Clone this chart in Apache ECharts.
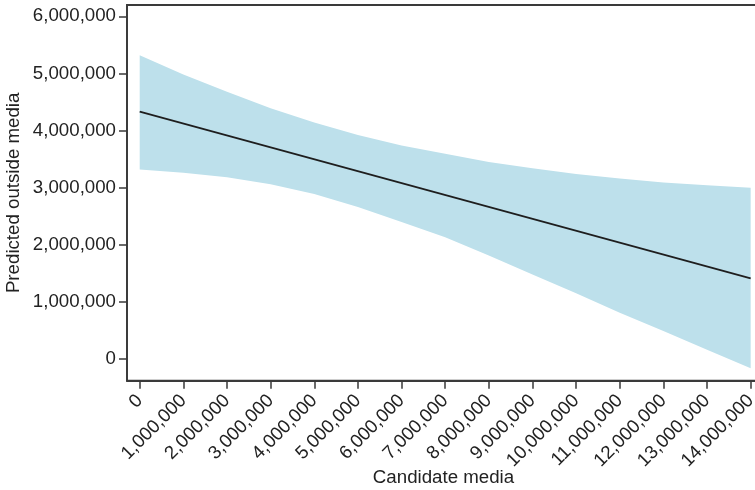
<!DOCTYPE html>
<html><head><meta charset="utf-8">
<script src="https://cdn.jsdelivr.net/npm/echarts@6/dist/echarts.min.js"></script>
<style>html,body{margin:0;padding:0;background:#fff}#c{width:755px;height:490px}</style>
</head><body><div id="c"></div>
<script>
// Candidate media (x) sample points
const xValues = [0,1000000,2000000,3000000,4000000,5000000,6000000,7000000,8000000,9000000,10000000,11000000,12000000,13000000,14000000];
// Upper bound of confidence band
const upperBound = [5320000,4980000,4680000,4390000,4140000,3920000,3740000,3595000,3450000,3340000,3240000,3160000,3090000,3040000,3000000];
// Lower bound of confidence band
const lowerBound = [3320000,3260000,3180000,3060000,2890000,2660000,2400000,2130000,1810000,1480000,1150000,810000,490000,160000,-160000];
// Fitted line endpoints
const fitX = [0, 14000000];
const fitY = [4330000, 1410000];
// Tick values
const xTicks = [0,1000000,2000000,3000000,4000000,5000000,6000000,7000000,8000000,9000000,10000000,11000000,12000000,13000000,14000000];
const yTicks = [0,1000000,2000000,3000000,4000000,5000000,6000000];

const fmt = v => Number(v).toLocaleString('en-US');
const FONT = "'Liberation Sans', Arial, Helvetica, sans-serif";
const TXT = '#222';
const AX = '#3a3a3a';
const FS = 18.7;

const chart = echarts.init(document.getElementById('c'), null, {renderer: 'canvas'});
chart.setOption({
  animation: false,
  backgroundColor: '#fff',
  grid: {left: 127, top: 5, right: -5, bottom: 109.3, show: true, borderColor: AX, borderWidth: 1.8, containLabel: false, outerBoundsMode: 'none'},
  xAxis: {
    type: 'value', min: -291000, max: 14214000,
    axisLine: {show: true, onZero: false, lineStyle: {color: AX, width: 1.8}},
    axisTick: {show: true, customValues: xTicks, length: 8, lineStyle: {color: AX, width: 1.5}},
    axisLabel: {customValues: xTicks, rotate: 45, formatter: fmt, fontSize: FS, fontFamily: FONT, color: TXT, margin: 17},
    splitLine: {show: false},
    name: 'Candidate media', nameLocation: 'middle', nameGap: 88, nameMoveOverlap: false,
    nameTextStyle: {fontSize: FS, fontFamily: FONT, color: TXT}
  },
  yAxis: {
    type: 'value', min: -380000, max: 6198000,
    axisLine: {show: true, onZero: false, lineStyle: {color: AX, width: 1.8}},
    axisTick: {show: true, customValues: yTicks, length: 8, lineStyle: {color: AX, width: 1.5}},
    axisLabel: {customValues: yTicks, formatter: fmt, fontSize: FS, fontFamily: FONT, color: TXT, margin: 11},
    splitLine: {show: false},
    name: 'Predicted outside media', nameLocation: 'middle', nameGap: 104, nameRotate: 90, nameMoveOverlap: false,
    nameTextStyle: {fontSize: FS, fontFamily: FONT, color: TXT}
  },
  series: [
    {
      type: 'custom', silent: true, z: 2,
      data: xValues.map((x, i) => [x, lowerBound[i], upperBound[i]]),
      encode: {x: 0, y: [1, 2]},
      renderItem: function (params, api) {
        if (params.dataIndex !== 0) return null;
        const top = xValues.map((x, i) => api.coord([x, upperBound[i]]));
        const bot = xValues.map((x, i) => api.coord([x, lowerBound[i]])).reverse();
        return {type: 'polygon', shape: {points: top.concat(bot)}, style: {fill: '#bde0eb', stroke: null}};
      }
    },
    {
      type: 'line', symbol: 'none', lineStyle: {color: '#1e1e1e', width: 1.8},
      data: fitX.map((x, i) => [x, fitY[i]]), z: 5
    }
  ]
});
</script>
</body></html>
